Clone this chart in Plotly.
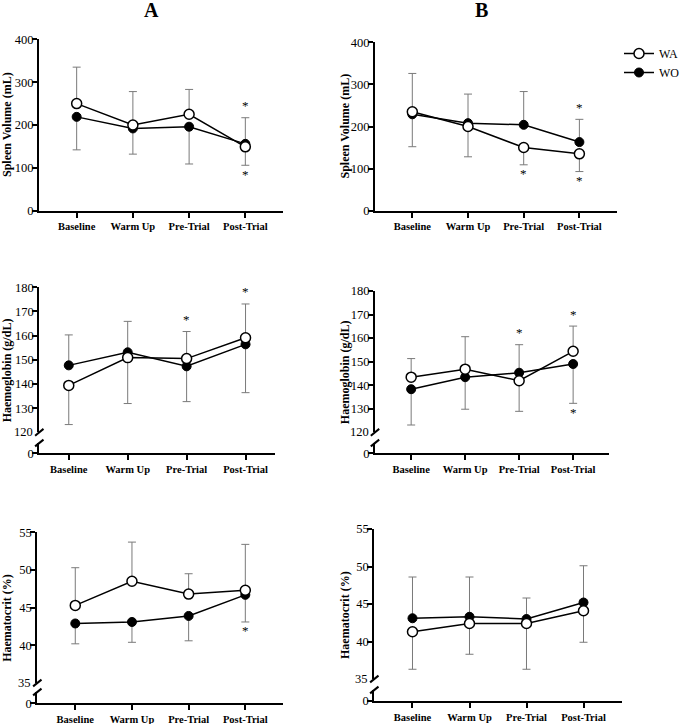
import plotly.graph_objects as go

categories = ["Baseline", "Warm Up", "Pre-Trial", "Post-Trial"]

# Spleen volume (mL)
spleen_a_wa = [250, 200, 225, 149]
spleen_a_wo = [219, 192, 196, 156]
spleen_a_wa_err = [85, 78, 58, 43]
spleen_a_wo_err = [77, 60, 87, 61]

spleen_b_wa = [235, 200, 150, 135]
spleen_b_wo = [229, 208, 204, 163]
spleen_b_wa_err = [91, 72, 41, 42]
spleen_b_wo_err = [77, 69, 79, 54]

# Haemoglobin (g/dL)
hb_a_wa = [139.4, 150.9, 150.5, 159.1]
hb_a_wo = [147.7, 153.1, 147.3, 156.4]
hb_a_wa_err = [16.2, 19.0, 11.2, 14.0]
hb_a_wo_err = [12.6, 12.8, 14.6, 20.0]

hb_b_wa = [143.4, 146.8, 141.9, 154.4]
hb_b_wo = [138.3, 143.4, 145.3, 149.0]
hb_b_wa_err = [7.9, 13.8, 13.0, 10.7]
hb_b_wo_err = [15.2, 13.6, 11.9, 16.7]

# Haematocrit (%)
hct_a_wa = [45.3, 48.5, 46.8, 47.3]
hct_a_wo = [42.9, 43.1, 43.9, 46.7]
hct_a_wa_err = [5.0, 5.2, 2.7, 6.1]
hct_a_wo_err = [2.7, 2.7, 3.3, 3.6]

hct_b_wa = [41.3, 42.4, 42.4, 44.1]
hct_b_wo = [43.1, 43.3, 43.0, 45.2]
hct_b_wa_err = [5.0, 4.1, 6.1, 4.2]
hct_b_wo_err = [5.5, 5.3, 2.8, 4.9]

# significance stars: (category index, side of the error bar)
spleen_a_sig = [(3, "up"), (3, "down")]
spleen_b_sig = [(2, "down"), (3, "up"), (3, "down")]
hb_a_sig = [(2, "up"), (3, "up")]
hb_b_sig = [(2, "up"), (3, "up"), (3, "down")]
hct_a_sig = [(3, "down")]
hct_b_sig = []

spleen_ticks = [0, 100, 200, 300, 400]
hb_ticks = [130, 140, 150, 160, 170, 180]
hct_ticks = [40, 45, 50, 55]

W, H = 685, 724
SERIF = "Liberation Serif, Times New Roman, serif"
ERR = "#7a7a7a"


def fx(px):
    return px / W


def fy(py):
    return 1 - py / H


panels = [
    dict(wa=spleen_a_wa, wo=spleen_a_wo, wa_err=spleen_a_wa_err, wo_err=spleen_a_wo_err,
         sig=spleen_a_sig, title="Spleen Volume (mL)", yrange=[0, 400], ticks=spleen_ticks,
         left=39, right=283, top=39.3, bottom=210.7, xrange=[-0.67, 3.67], broken=False, tx=7),
    dict(wa=spleen_b_wa, wo=spleen_b_wo, wa_err=spleen_b_wa_err, wo_err=spleen_b_wo_err,
         sig=spleen_b_sig, title="Spleen Volume (mL)", yrange=[0, 400], ticks=spleen_ticks,
         left=375, right=616.7, top=42.3, bottom=210.7, xrange=[-0.67, 3.67], broken=False, tx=345),
    dict(wa=hb_a_wa, wo=hb_a_wo, wa_err=hb_a_wa_err, wo_err=hb_a_wo_err,
         sig=hb_a_sig, title="Haemoglobin (g/dL)", yrange=[120, 180], ticks=hb_ticks,
         left=39.3, right=275, top=287.3, bottom=432.3, brk=443, zero=453.3,
         xrange=[-0.5, 3.5], broken=True, tx=7),
    dict(wa=hb_b_wa, wo=hb_b_wo, wa_err=hb_b_wa_err, wo_err=hb_b_wo_err,
         sig=hb_b_sig, title="Haemoglobin (g/dL)", yrange=[120, 180], ticks=hb_ticks,
         left=375, right=609.3, top=291, bottom=432.3, brk=443, zero=453.3,
         xrange=[-0.67, 3.67], broken=True, tx=345),
    dict(wa=hct_a_wa, wo=hct_a_wo, wa_err=hct_a_wa_err, wo_err=hct_a_wo_err,
         sig=hct_a_sig, title="Haematocrit (%)", yrange=[35, 55], ticks=hct_ticks,
         left=37.3, right=283.3, top=532.3, bottom=683, brk=692, zero=703.3,
         xrange=[-0.67, 3.67], broken=True, tx=7),
    dict(wa=hct_b_wa, wo=hct_b_wo, wa_err=hct_b_wa_err, wo_err=hct_b_wo_err,
         sig=hct_b_sig, title="Haematocrit (%)", yrange=[35, 55], ticks=hct_ticks,
         left=374.3, right=621.7, top=529, bottom=679, brk=690, zero=701,
         xrange=[-0.67, 3.67], broken=True, tx=345),
]

fig = go.Figure()
layout = {}
annotations = []
shapes = []

axis_style = dict(showline=True, linecolor="black", linewidth=2, ticks="outside",
                  ticklen=5, tickwidth=2, tickcolor="black", showgrid=False,
                  zeroline=False, fixedrange=True, automargin=False)
tick_font = dict(family=SERIF, size=12.5, color="black")

yi = 0
for i, p in enumerate(panels):
    xn = i + 1
    xid = "x" if xn == 1 else f"x{xn}"
    yi += 1
    yu = yi
    yuid = "y" if yu == 1 else f"y{yu}"
    if p["broken"]:
        yi += 1
        yl = yi
        ylid = f"y{yl}"
        # empty trace so the short bottom segment of the broken axis exists
        fig.add_trace(go.Scatter(x=[], y=[], xaxis=xid, yaxis=ylid, showlegend=False,
                                 hoverinfo="skip"))
    else:
        ylid = yuid

    # one-sided error bars: upper series gets the upward bar, lower series the downward bar
    # WO first so the open WA circles sit on top
    for name, vals, errs, other, rank, marker in [
        ("WO", p["wo"], p["wo_err"], p["wa"], 2, dict(symbol="circle", size=9, color="black",
                                                        line=dict(color="black", width=1))),
        ("WA", p["wa"], p["wa_err"], p["wo"], 1, dict(symbol="circle", size=10, color="white",
                                                        line=dict(color="black", width=1.5))),
    ]:
        up = [e if v >= o else 0 for v, e, o in zip(vals, errs, other)]
        down = [e if v < o else 0 for v, e, o in zip(vals, errs, other)]
        fig.add_trace(go.Scatter(
            x=categories, y=vals, name=name, mode="lines+markers",
            line=dict(color="black", width=1.5), marker=marker,
            error_y=dict(type="data", symmetric=False, array=up, arrayminus=down,
                         color=ERR, thickness=1, width=4),
            xaxis=xid, yaxis=yuid, showlegend=(i == 1), legendrank=rank, cliponaxis=False,
        ))

    xkey = "xaxis" if xn == 1 else f"xaxis{xn}"
    layout[xkey] = dict(axis_style, domain=[fx(p["left"]), fx(p["right"])], anchor=ylid,
                        range=p["xrange"], type="category",
                        tickfont=dict(family=SERIF, size=10.5, color="black", weight="bold"))

    ukey = "yaxis" if yu == 1 else f"yaxis{yu}"
    tv = [t for t in p["ticks"] if not (p["broken"] and t == p["yrange"][0])]
    layout[ukey] = dict(axis_style, domain=[fy(p["bottom"]), fy(p["top"])], anchor=xid,
                        range=p["yrange"], tickvals=tv, ticktext=[str(t) for t in tv],
                        tickfont=tick_font, ticklabelstandoff=-4)
    if p["broken"]:
        layout[f"yaxis{yl}"] = dict(axis_style, domain=[fy(p["zero"]), fy(p["brk"])], anchor=xid,
                                    range=[0, 1], tickvals=[0], ticktext=["0"],
                                    tickfont=tick_font, ticklabelstandoff=-4)
        # label of the broken bottom value
        annotations.append(dict(x=fx(p["left"]), y=fy(p["bottom"]), xref="paper", yref="paper",
                                text=str(p["yrange"][0]), showarrow=False, xanchor="right",
                                yanchor="middle", xshift=-4, font=tick_font))
        for cy in (p["bottom"], p["brk"]):
            shapes.append(dict(type="line", xref="paper", yref="paper",
                               x0=fx(p["left"] - 4.2), y0=fy(cy + 3.4),
                               x1=fx(p["left"] + 4.2), y1=fy(cy - 3.4),
                               line=dict(color="black", width=2)))

    # axis title
    zero_px = p["zero"] if p["broken"] else p["bottom"]
    annotations.append(dict(x=fx(p["tx"]), y=fy((p["top"] + zero_px) / 2), xref="paper",
                            yref="paper", text=p["title"], textangle=-90, showarrow=False,
                            xanchor="center", yanchor="middle",
                            font=dict(family=SERIF, size=12, color="black", weight="bold")))

    # significance stars
    for ci, side in p["sig"]:
        if side == "up":
            yv = max(p["wa"][ci], p["wo"][ci]) + (p["wa_err"][ci] if p["wa"][ci] >= p["wo"][ci]
                                                   else p["wo_err"][ci])
            ys = 12
        else:
            yv = min(p["wa"][ci], p["wo"][ci]) - (p["wa_err"][ci] if p["wa"][ci] < p["wo"][ci]
                                                   else p["wo_err"][ci])
            ys = -9
        annotations.append(dict(x=categories[ci], y=yv, xref=xid, yref=yuid, text="*",
                                showarrow=False, yshift=ys, xanchor="center", yanchor="middle",
                                font=dict(family=SERIF, size=13, color="black")))

for txt, xp in (("A", 151.7), ("B", 481.7)):
    annotations.append(dict(x=fx(xp), y=fy(10.5), xref="paper", yref="paper", text=txt,
                            showarrow=False, xanchor="center", yanchor="middle",
                            font=dict(family=SERIF, size=20, color="black", weight="bold")))

fig.update_layout(
    layout,
    width=W, height=H,
    margin=dict(l=0, r=0, t=0, b=0),
    paper_bgcolor="white", plot_bgcolor="white",
    font=dict(family=SERIF, color="black"),
    annotations=annotations, shapes=shapes,
    legend=dict(x=1, y=fy(39), xanchor="right", yanchor="top",
                bgcolor="rgba(0,0,0,0)", font=dict(family=SERIF, size=12, color="black"),
                itemwidth=30, tracegroupgap=0),
)

# the page's default body margin would shift the figure by 8px
fig.write_html("out.html", config={"displayModeBar": False},
               post_script="document.body.style.margin='0';")
